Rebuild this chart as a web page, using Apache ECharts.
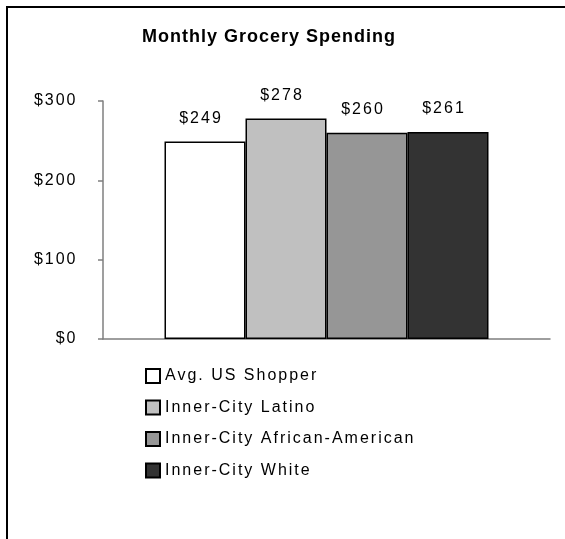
<!DOCTYPE html>
<html>
<head>
<meta charset="utf-8">
<script src="https://cdn.jsdelivr.net/npm/echarts@6/dist/echarts.min.js"></script>
<style>
  html, body { margin: 0; padding: 0; background: #fff; }
  #main { width: 565px; height: 539px; }
</style>
</head>
<body>
<div id="main"></div>
<script>
// chart data
const categories = ['Monthly Grocery Spending'];
const seriesNames = ['Avg. US Shopper', 'Inner-City Latino', 'Inner-City African-American', 'Inner-City White'];
const spending = [249, 278, 260, 261];
const barColors = ['#ffffff', '#c0c0c0', '#969696', '#333333'];

const FONT = 'Liberation Sans, Arial, sans-serif';

// the original text is spaced out a bit, canvas can do that with letterSpacing
const LETTER_SPACING = 2;
const TITLE_SPACING = 1;
function spacingFor(font) {
    return /bold|700/.test(font) ? TITLE_SPACING : LETTER_SPACING;
}
const drawText = CanvasRenderingContext2D.prototype.fillText;
CanvasRenderingContext2D.prototype.fillText = function (text, x, y, maxW) {
    this.letterSpacing = spacingFor(this.font) + 'px';
    return maxW === undefined ? drawText.call(this, text, x, y) : drawText.call(this, text, x, y, maxW);
};
const measureCtx = document.createElement('canvas').getContext('2d');
echarts.setPlatformAPI({
    measureText(text, font) {
        measureCtx.font = font;
        return { width: measureCtx.measureText(text).width + spacingFor(font) * text.length };
    }
});

const option = {
    backgroundColor: '#ffffff',
    animation: false,
    textStyle: { fontFamily: FONT },
    title: {
        text: 'Monthly Grocery Spending',
        left: 137,
        top: 23,
        textStyle: { color: '#000', fontSize: 18, fontWeight: 'bold', fontFamily: FONT }
    },
    graphic: [{
        type: 'rect',
        shape: { x: 7, y: 7, width: 700, height: 700 },
        style: { fill: 'none', stroke: '#000', lineWidth: 2 },
        silent: true
    }],
    legend: {
        orient: 'vertical',
        left: 140,
        top: 362,
        itemWidth: 14,
        itemHeight: 14,
        itemGap: 13.5,
        icon: 'rect',
        data: seriesNames,
        textStyle: { color: '#000', fontSize: 16, fontFamily: FONT }
    },
    grid: { left: 103, right: 15, top: 101, bottom: 200 },
    xAxis: {
        type: 'category',
        data: categories,
        axisLine: { lineStyle: { color: '#7f7f7f', width: 1.5 } },
        axisTick: { length: 6, lineStyle: { color: '#333', width: 1.5 } },
        axisLabel: { show: false }
    },
    yAxis: {
        type: 'value',
        min: 0,
        max: 300,
        interval: 100,
        axisLine: { show: true, lineStyle: { color: '#7f7f7f', width: 1.5 } },
        axisTick: { show: true, length: 5, lineStyle: { color: '#7f7f7f', width: 1.5 } },
        splitLine: { show: false },
        axisLabel: {
            color: '#000',
            fontSize: 16,
            fontFamily: FONT,
            margin: 25.5,
            formatter: v => '$' + v
        }
    },
    series: seriesNames.map((name, i) => ({
        name: name,
        type: 'bar',
        barWidth: 81,
        barGap: '0%',
        data: [spending[i]],
        itemStyle: { color: barColors[i], borderColor: '#000', borderWidth: 1.5 },
        label: {
            show: true,
            position: 'top',
            distance: 14,
            offset: [-4, 0],
            color: '#000',
            fontSize: 16,
            fontFamily: FONT,
            formatter: p => '$' + p.value
        }
    }))
};

const chart = echarts.init(document.getElementById('main'));
chart.setOption(option);
</script>
</body>
</html>
